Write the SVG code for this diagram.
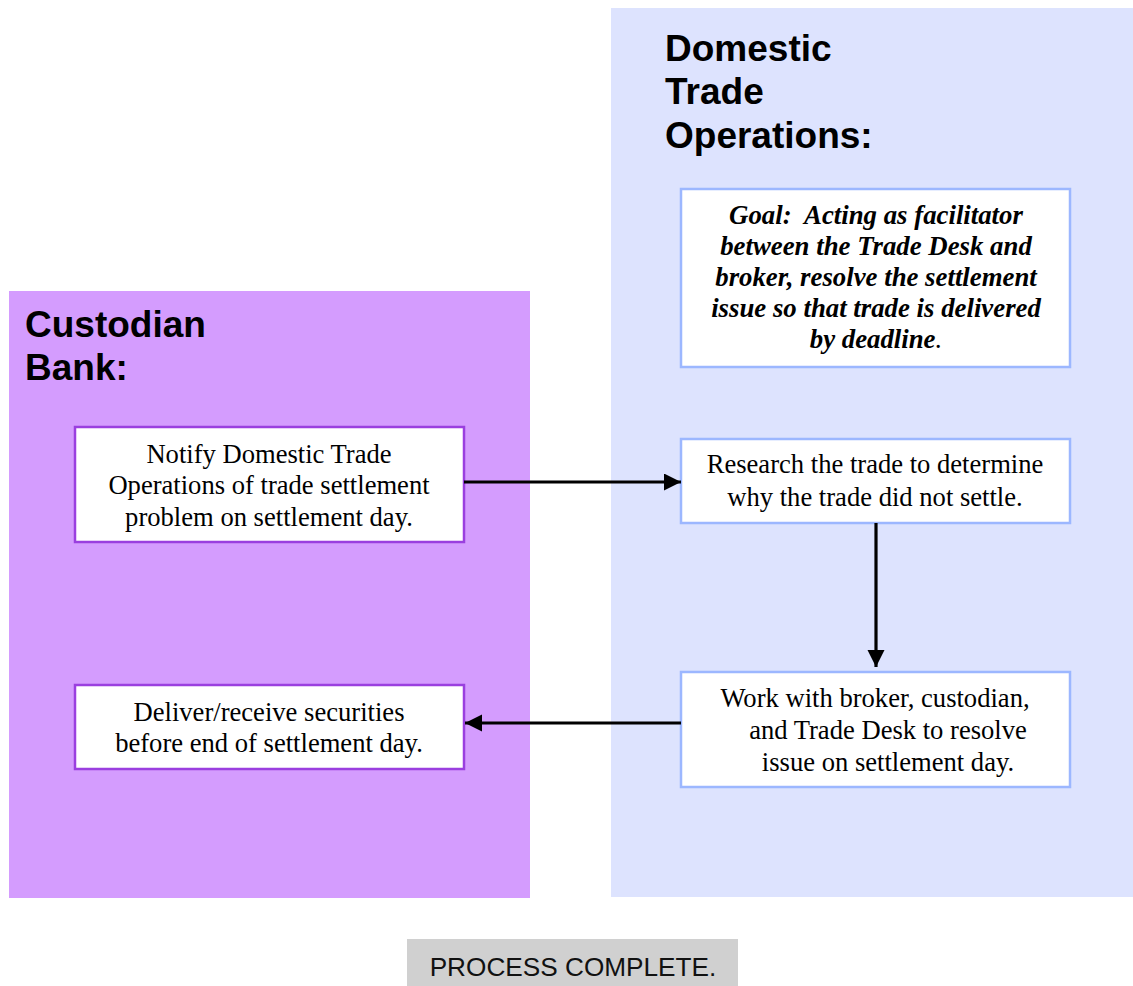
<svg xmlns="http://www.w3.org/2000/svg" width="1133" height="986" viewBox="0 0 1133 986">
  <style>
    .lane-title { font-family: "Liberation Sans", Arial, sans-serif; font-weight: bold; font-size: 37px; fill: #000; }
    .step { font-family: "Liberation Serif", "Times New Roman", serif; font-size: 26.6px; fill: #000; text-anchor: middle; }
    .goal { font-family: "Liberation Serif", "Times New Roman", serif; font-size: 26.8px; font-weight: bold; font-style: italic; fill: #000; text-anchor: middle; }
    .cb-box { fill: #ffffff; stroke: #9a3fdf; stroke-width: 2.5; }
    .dto-box { fill: #ffffff; stroke: #9cb7ff; stroke-width: 2.5; }
    .flow { stroke: #000; stroke-width: 3.2; fill: none; }
    .done { font-family: "Liberation Sans", Arial, sans-serif; font-size: 26.2px; fill: #111; text-anchor: middle; }
  </style>
  <defs>
    <marker id="arrowhead" markerUnits="userSpaceOnUse" markerWidth="18" markerHeight="18" refX="17" refY="8.5" orient="auto">
      <path d="M0,0 L17,8.5 L0,17 Z" fill="#000"/>
    </marker>
  </defs>

  <rect width="1133" height="986" fill="#ffffff"/>

  <!-- swimlanes -->
  <g id="lane-custodian">
    <rect x="9" y="291" width="521" height="607" fill="#d49cfe"/>
    <text class="lane-title" x="25" y="337">Custodian</text>
    <text class="lane-title" x="25" y="380">Bank:</text>
  </g>
  <g id="lane-domestic">
    <rect x="611" y="8" width="522" height="889" fill="#dde3fe"/>
    <text class="lane-title" x="665" y="61">Domestic</text>
    <text class="lane-title" x="665" y="104">Trade</text>
    <text class="lane-title" x="665" y="148">Operations:</text>
  </g>

  <!-- steps -->
  <g id="goal">
    <rect class="dto-box" x="681" y="189" width="389" height="178"/>
    <text class="goal" x="876" y="224" xml:space="preserve">Goal:  Acting as facilitator</text>
    <text class="goal" x="876" y="255">between the Trade Desk and</text>
    <text class="goal" x="876" y="286">broker, resolve the settlement</text>
    <text class="goal" x="876" y="317">issue so that trade is delivered</text>
    <text class="goal" x="876" y="348">by deadline<tspan font-weight="normal">.</tspan></text>
  </g>

  <g id="notify">
    <rect class="cb-box" x="75" y="427" width="389" height="115"/>
    <text class="step" x="269" y="463">Notify Domestic Trade</text>
    <text class="step" x="269" y="494">Operations of trade settlement</text>
    <text class="step" x="269" y="526">problem on settlement day.</text>
  </g>

  <g id="research">
    <rect class="dto-box" x="681" y="439" width="389" height="84"/>
    <text class="step" x="875" y="473">Research the trade to determine</text>
    <text class="step" x="875" y="506">why the trade did not settle.</text>
  </g>

  <g id="resolve">
    <rect class="dto-box" x="681" y="672" width="389" height="115"/>
    <text class="step" x="875" y="707">Work with broker, custodian,</text>
    <text class="step" x="888" y="739">and Trade Desk to resolve</text>
    <text class="step" x="888" y="771">issue on settlement day.</text>
  </g>

  <g id="deliver">
    <rect class="cb-box" x="75" y="685" width="389" height="84"/>
    <text class="step" x="269" y="721">Deliver/receive securities</text>
    <text class="step" x="269" y="752">before end of settlement day.</text>
  </g>

  <g id="process-complete">
    <rect x="407" y="939" width="331" height="47" fill="#d0d0d0"/>
    <text class="done" x="573" y="976">PROCESS COMPLETE.</text>
  </g>

  <!-- connectors -->
  <g id="connectors">
    <line class="flow" x1="464" y1="482" x2="681" y2="482" marker-end="url(#arrowhead)"/>
    <line class="flow" x1="876" y1="523" x2="876" y2="667" marker-end="url(#arrowhead)"/>
    <line class="flow" x1="681" y1="723" x2="465" y2="723" marker-end="url(#arrowhead)"/>
  </g>
</svg>
